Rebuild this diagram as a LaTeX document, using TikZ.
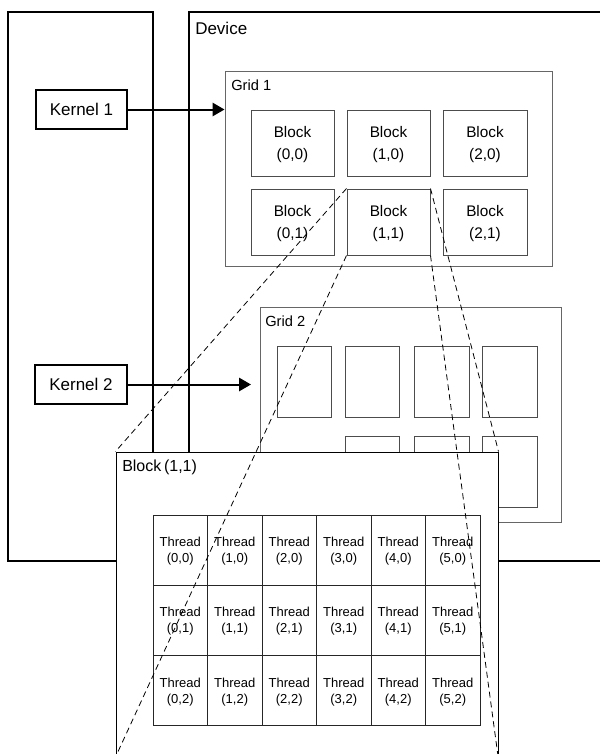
\documentclass[tikz,border=0pt]{standalone}
\usepackage{fontspec}
\setmainfont{Liberation Sans}
\usetikzlibrary{arrows.meta,fit}
\begin{document}
\begin{tikzpicture}[x=0.75pt,y=-0.75pt,
  thickbox/.style={draw=black,line width=1.5pt,inner sep=0pt},
  kernelbox/.style={draw=black,line width=1.5pt,inner sep=0pt,fill=white},
  kerneltext/.style={inner sep=0pt,font=\fontsize{12.75}{15}\selectfont},
  gridbox/.style={draw=black!60,line width=0.75pt,inner sep=0pt,fill=white},
  blockbox/.style={draw=black!70,line width=0.75pt,inner sep=0pt,fill=white},
  blocktext/.style={inner sep=0pt,align=center,yshift=-1.5pt,font=\fontsize{11.5}{16.5}\selectfont},
  bigbox/.style={draw=black,line width=0.75pt,inner sep=0pt,fill=white},
  threadbox/.style={draw=black!85,line width=0.75pt,inner sep=0pt},
  threadtext/.style={inner sep=0pt,align=center,yshift=-0.75pt,font=\fontsize{9.75}{12}\selectfont},
  lbl/.style={anchor=west,inner sep=0pt},
  launch/.style={line width=1.5pt,-{Triangle[length=9pt,width=10pt]}},
  zoomline/.style={draw=black,line width=0.6pt,dash pattern=on 4.5pt off 3pt}
]
\useasboundingbox (0,0) rectangle (600,754);

% host and device
\node[thickbox, fit={(8,12)(153,561)}] (host) {};
\node[thickbox, fit={(189,12)(615,561)}] (device) {};
\node[lbl, font=\fontsize{12.75}{15}\selectfont] (devlbl) at (195,28) {Device};

% grid 1
\node[gridbox, fit={(225,71)(552,266)}] (grid1) {};
\node[lbl, font=\fontsize{11}{13}\selectfont] (g1lbl) at (231,85) {Grid 1};
\node[blockbox, fit={(251,110)(334,176)}] (b00) {};
\node[blockbox, fit={(347,110)(430,176)}] (b10) {};
\node[blockbox, fit={(443,110)(527,176)}] (b20) {};
\node[blockbox, fit={(251,189)(334,255)}] (b01) {};
\node[blockbox, fit={(347,189)(430,255)}] (b11) {};
\node[blockbox, fit={(443,189)(527,255)}] (b21) {};
\node[blocktext] (b00t) at (b00.center) {Block\\(0,0)};
\node[blocktext] (b10t) at (b10.center) {Block\\(1,0)};
\node[blocktext] (b20t) at (b20.center) {Block\\(2,0)};
\node[blocktext] (b01t) at (b01.center) {Block\\(0,1)};
\node[blocktext] (b11t) at (b11.center) {Block\\(1,1)};
\node[blocktext] (b21t) at (b21.center) {Block\\(2,1)};

% grid 2
\node[gridbox, fit={(260,307)(561,522)}] (grid2) {};
\node[lbl, font=\fontsize{11}{13}\selectfont] (g2lbl) at (265,321) {Grid 2};
\node[blockbox, fit={(277,346)(331,417)}] (c00) {};
\node[blockbox, fit={(345,346)(399,417)}] (c10) {};
\node[blockbox, fit={(414,346)(469,417)}] (c20) {};
\node[blockbox, fit={(482,346)(537,417)}] (c30) {};
\node[blockbox, fit={(345,436)(399,507)}] (c11) {};
\node[blockbox, fit={(414,436)(469,507)}] (c21) {};
\node[blockbox, fit={(482,436)(537,507)}] (c31) {};

% kernels
\node[kernelbox, fit={(36,90)(127,129)}] (k1) {};
\node[kernelbox, fit={(35,365)(127,404)}] (k2) {};
\node[kerneltext] (k1t) at (k1.center) {Kernel 1};
\node[kerneltext] (k2t) at (k2.center) {Kernel 2};
\coordinate (tip2) at (251,385);
\draw[launch] (k1.east) -- (k1.east -| grid1.west);
\draw[launch] (k2.east) -- (k2.east -| tip2);

% block (1,1) detail
\node[bigbox, fit={(116,452)(498,775)}] (big) {};
\node[lbl, font=\fontsize{12}{14}\selectfont] (biglbl) at (122,467) {Block\,(1,1)};
\foreach \i in {0,...,5}{
  \foreach \j in {0,1,2}{
    \pgfmathsetmacro{\xa}{153+54.5*\i}
    \pgfmathsetmacro{\xb}{153+54.5*(\i+1)}
    \pgfmathsetmacro{\ya}{515+70.33*\j}
    \pgfmathsetmacro{\yb}{515+70.33*(\j+1)}
    \node[threadbox, fit={(\xa,\ya)(\xb,\yb)}] (t\i\j) {};
    \node[threadtext] (tt\i\j) at (t\i\j.center) {Thread\\(\i,\j)};
  }
}

% zoom lines
\coordinate (bl) at (116,756);
\coordinate (br) at (498,756);
\draw[zoomline] (b11.north west) -- (big.north west);
\draw[zoomline] (b11.south west) -- (bl);
\draw[zoomline] (b11.north east) -- (big.north east);
\draw[zoomline] (b11.south east) -- (br);
\end{tikzpicture}
\end{document}
